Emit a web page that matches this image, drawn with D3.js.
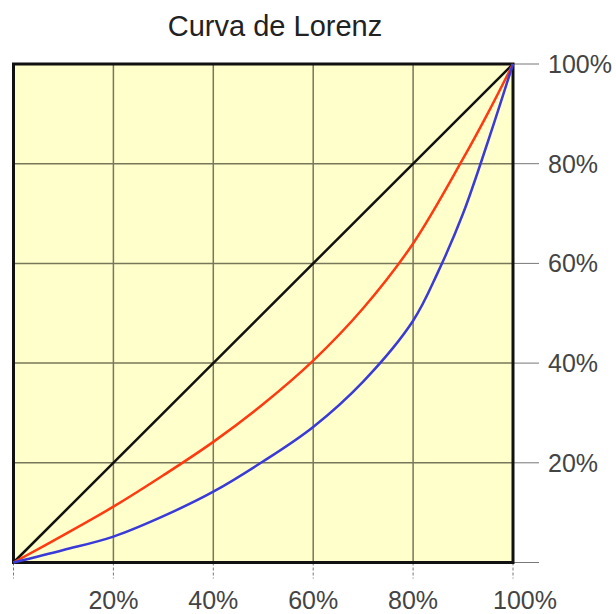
<!DOCTYPE html>
<html>
<head>
<meta charset="utf-8">
<script src="https://cdn.jsdelivr.net/npm/d3@7"></script>
<style>
  body { margin: 0; background: #fff; }
  svg { display: block; font-family: "Liberation Sans", Arial, sans-serif; }
</style>
</head>
<body>
<div id="chart"></div>
<script>
// Lorenz curve data (x = % population, y = % income)
const ticks = [20, 40, 60, 80, 100];
const tickLabels = ['20%', '40%', '60%', '80%', '100%'];
const equality = [[0, 0], [100, 100]];
const redCurve = [[0, 0], [10, 5.5], [20, 11.2], [30, 17.5], [40, 24.2], [50, 31.8],
    [60, 40.5], [70, 51], [80, 64], [90, 81], [95, 90.2], [100, 100]];
const blueCurve = [[0, 0], [10, 2.5], [20, 5.2], [30, 9.3], [40, 14.2], [50, 20.3],
    [60, 27.2], [70, 36.3], [80, 48.5], [85, 58.3], [90, 70], [95, 84.5], [100, 100]];

const width = 616;
const height = 614;
const plot = { left: 13.5, right: 513, top: 64, bottom: 562.5 };

const x = d3.scaleLinear().domain([0, 100]).range([plot.left, plot.right]);
const y = d3.scaleLinear().domain([0, 100]).range([plot.bottom, plot.top]);

const svg = d3.select('#chart').append('svg')
    .attr('width', width)
    .attr('height', height);

// title
svg.append('text')
    .attr('x', 275)
    .attr('y', 36)
    .attr('text-anchor', 'middle')
    .attr('font-size', 29)
    .attr('fill', '#222')
    .text('Curva de Lorenz');

// background
svg.append('rect')
    .attr('x', plot.left)
    .attr('y', plot.top)
    .attr('width', plot.right - plot.left)
    .attr('height', plot.bottom - plot.top)
    .attr('fill', '#ffffcc');

// right axis ticks (extend past plot)
svg.append('g').selectAll('line')
    .data([0].concat(ticks))
    .enter()
    .append('line')
    .attr('x1', plot.right)
    .attr('x2', plot.right + 26)
    .attr('y1', d => y(d))
    .attr('y2', d => y(d))
    .attr('stroke', '#777')
    .attr('stroke-width', 1);

// bottom axis ticks
svg.append('g').selectAll('line')
    .data([0].concat(ticks))
    .enter()
    .append('line')
    .attr('x1', d => x(d))
    .attr('x2', d => x(d))
    .attr('y1', plot.bottom)
    .attr('y2', plot.bottom + 16)
    .attr('stroke', '#777')
    .attr('stroke-width', 1)
    .attr('stroke-dasharray', '3,2');

// grid lines
const grid = svg.append('g');
grid.selectAll('.vgrid')
    .data(ticks.slice(0, -1))
    .enter()
    .append('line')
    .attr('class', 'vgrid')
    .attr('x1', d => x(d))
    .attr('x2', d => x(d))
    .attr('y1', plot.top)
    .attr('y2', plot.bottom)
    .attr('stroke', '#77775a')
    .attr('stroke-width', 1.5);
grid.selectAll('.hgrid')
    .data(ticks.slice(0, -1))
    .enter()
    .append('line')
    .attr('class', 'hgrid')
    .attr('x1', plot.left)
    .attr('x2', plot.right)
    .attr('y1', d => y(d))
    .attr('y2', d => y(d))
    .attr('stroke', '#77775a')
    .attr('stroke-width', 1.5);

// border
svg.append('rect')
    .attr('x', plot.left)
    .attr('y', plot.top)
    .attr('width', plot.right - plot.left)
    .attr('height', plot.bottom - plot.top)
    .attr('fill', 'none')
    .attr('stroke', '#111')
    .attr('stroke-width', 3);

// curves
const line = d3.line()
    .x(d => x(d[0]))
    .y(d => y(d[1]))
    .curve(d3.curveCatmullRom.alpha(0.5));

svg.append('path')
    .datum(equality)
    .attr('d', line)
    .attr('fill', 'none')
    .attr('stroke', '#111')
    .attr('stroke-width', 2.5);

svg.append('path')
    .datum(redCurve)
    .attr('d', line)
    .attr('fill', 'none')
    .attr('stroke', '#ff3a10')
    .attr('stroke-width', 2.5);

svg.append('path')
    .datum(blueCurve)
    .attr('d', line)
    .attr('fill', 'none')
    .attr('stroke', '#3a3ad8')
    .attr('stroke-width', 2.5);

// right labels
svg.append('g').selectAll('text')
    .data(ticks)
    .enter()
    .append('text')
    .attr('x', plot.right + 35)
    .attr('y', d => y(d))
    .attr('dy', '0.36em')
    .attr('font-size', 25)
    .attr('fill', '#444')
    .text((d, i) => tickLabels[i]);

// bottom labels
svg.append('g').selectAll('text')
    .data(ticks)
    .enter()
    .append('text')
    .attr('x', d => x(d) + (d === 100 ? 12 : 0))
    .attr('y', 609)
    .attr('text-anchor', 'middle')
    .attr('font-size', 25)
    .attr('fill', '#444')
    .text((d, i) => tickLabels[i]);
</script>
</body>
</html>
